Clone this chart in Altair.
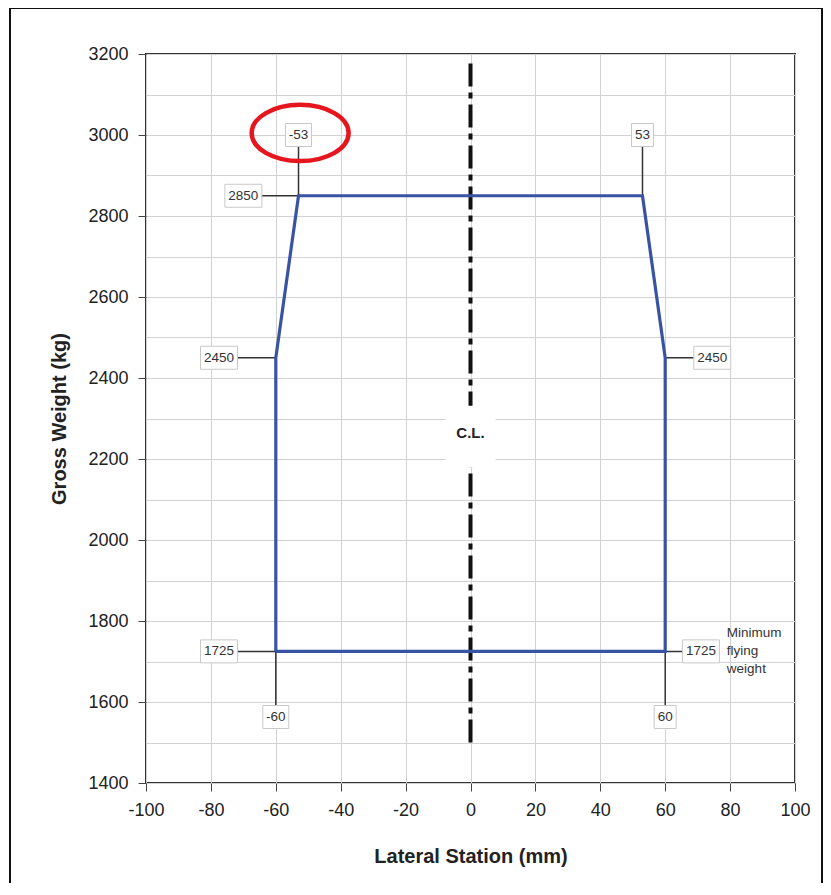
import altair as alt
import pandas as pd

# Envelope (Lateral station mm, gross weight kg)
env_x = [-60, -60, -53, 53, 60, 60, -60]
env_y = [1725, 2450, 2850, 2850, 2450, 1725, 1725]

# Annotation boxes: label, box centre (x, y), anchor point on envelope, box width class
ann_label = ["-53", "53", "2850", "2450", "2450", "1725", "1725", "-60", "60"]
ann_x = [-53, 53, -70, -77.5, 74.5, -77.5, 71, -60, 60]
ann_y = [3000, 3000, 2850, 2450, 2450, 1725, 1725, 1563, 1563]
anc_x = [-53, 53, -53, -60, 60, -60, 60, -60, 60]
anc_y = [2850, 2850, 2850, 2450, 2450, 1725, 1725, 1725, 1725]
ann_w = [26, 22, 37, 37, 37, 37, 37, 26, 22]

# Red highlight ellipse around the -53 label
hl_x = [-52.5]
hl_y = [3005]

# Centre line
cl_x = [0]
cl_y1 = [1500]
cl_y2 = [3180]
cl_label_y = [2255]

note_x = [79]
note_y = [1770]
note_text = ["Minimum\nflying\nweight"]

W, H = 649, 729
XDOM = [-100, 100]
YDOM = [1400, 3200]

env = pd.DataFrame({"x": env_x, "y": env_y, "i": list(range(len(env_x)))})
ann = pd.DataFrame({"label": ann_label, "x": ann_x, "y": ann_y,
                    "ax": anc_x, "ay": anc_y, "w": ann_w})
cl = pd.DataFrame({"x": cl_x, "y": cl_y1, "y2": cl_y2, "ly": cl_label_y})
note = pd.DataFrame({"x": note_x, "y": note_y, "t": note_text})
hl = pd.DataFrame({"x": hl_x, "y": hl_y})

xs = alt.Scale(domain=XDOM, nice=False, zero=False)
ys = alt.Scale(domain=YDOM, nice=False, zero=False)

x_axis = alt.Axis(
    values=list(range(-100, 101, 10)),
    labelExpr="datum.value % 20 === 0 ? '' + datum.value : ''",
    tickOpacity={"condition": {"test": "datum.value % 20 !== 0", "value": 0}, "value": 1},
    title="Lateral Station (mm)", grid=True, domain=False,
    tickSize=8, tickColor="#444", tickWidth=1,
    labelPadding=10, titlePadding=27, labelFlush=False,
    labelOverlap=False,
)
y_axis = alt.Axis(
    values=list(range(1400, 3201, 100)),
    labelExpr="datum.value % 200 === 0 ? '' + datum.value : ''",
    tickOpacity={"condition": {"test": "datum.value % 200 !== 0", "value": 0}, "value": 1},
    title="Gross Weight (kg)", grid=True, domain=False,
    tickSize=8, tickColor="#444", tickWidth=1,
    labelPadding=10, titlePadding=18, labelFlush=False,
    labelOverlap=False,
)

base_grid = alt.Chart(env).mark_point(opacity=0).encode(
    x=alt.X("x:Q", scale=xs, axis=x_axis),
    y=alt.Y("y:Q", scale=ys, axis=y_axis),
)

centre = alt.Chart(cl).mark_rule(color="#111", strokeWidth=4, strokeDash=[23, 6, 6, 6]).encode(
    x=alt.X("x:Q", scale=xs), y=alt.Y("y:Q", scale=ys), y2="y2:Q"
)
cl_bg = alt.Chart(cl).mark_rect(color="white", width=50, height=62).encode(
    x=alt.X("x:Q", scale=xs), y=alt.Y("ly:Q", scale=ys)
)
cl_txt = alt.Chart(cl).mark_text(text="C.L.", font="Liberation Sans", fontWeight="bold",
                                 fontSize=15, color="#222", baseline="middle", dy=-4).encode(
    x=alt.X("x:Q", scale=xs), y=alt.Y("ly:Q", scale=ys)
)

leaders = alt.Chart(ann).mark_rule(color="#333", strokeWidth=1.5).encode(
    x=alt.X("x:Q", scale=xs), y=alt.Y("y:Q", scale=ys), x2="ax:Q", y2="ay:Q"
)

envelope = alt.Chart(env).mark_line(color="#3953a4", strokeWidth=3.2, strokeJoin="miter").encode(
    x=alt.X("x:Q", scale=xs), y=alt.Y("y:Q", scale=ys), order="i:Q"
)

box_layers = []
for w in sorted(set(ann_w)):
    box_layers.append(
        alt.Chart(ann).transform_filter(f"datum.w === {w}").mark_rect(
            fill="white", stroke="#c8c8c8", strokeWidth=1, width=w, height=23
        ).encode(x=alt.X("x:Q", scale=xs), y=alt.Y("y:Q", scale=ys))
    )

box_txt = alt.Chart(ann).mark_text(font="Liberation Sans", fontSize=13.5, color="#333",
                                   baseline="middle").encode(
    x=alt.X("x:Q", scale=xs), y=alt.Y("y:Q", scale=ys), text="label:N"
)

note_txt = alt.Chart(note).mark_text(font="Liberation Sans", fontSize=13.5, color="#333",
                                     align="left", baseline="middle", lineBreak="\n",
                                     lineHeight=18).encode(
    x=alt.X("x:Q", scale=xs), y=alt.Y("y:Q", scale=ys), text="t:N"
)

ellipse_path = "M -1 0 A 1 0.58 0 1 0 1 0 A 1 0.58 0 1 0 -1 0 Z"
highlight = alt.Chart(hl).mark_point(
    shape=ellipse_path, size=9400, filled=False, stroke="#e5161d", strokeWidth=4.5, opacity=1
).encode(x=alt.X("x:Q", scale=xs), y=alt.Y("y:Q", scale=ys))

frame = alt.Chart(cl).mark_rule(color="#111", strokeWidth=2)
frame_l = frame.encode(x=alt.value(-136), y=alt.value(-46), y2=alt.value(900))
frame_t = frame.encode(x=alt.value(-136), x2=alt.value(676), y=alt.value(-46))
frame_r = frame.encode(x=alt.value(676), y=alt.value(-46), y2=alt.value(900))

chart = alt.layer(
    base_grid, centre, cl_bg, cl_txt, leaders, envelope, *box_layers, box_txt, note_txt,
    highlight, frame_l, frame_t, frame_r,
).properties(
    width=W, height=H,
    autosize=alt.AutoSizeParams(type="none"),
    padding={"left": 138, "top": 46, "right": 28, "bottom": 100},
    background="white",
).configure_view(
    stroke="#333", strokeWidth=2, clip=False
).configure_axis(
    gridColor="#d2d2d2", gridWidth=1,
    labelFont="Liberation Sans", labelFontSize=18, labelColor="#222",
    titleFont="Liberation Sans", titleFontSize=20, titleFontWeight="bold", titleColor="#222",
)

chart.save("out.html", embed_options={"renderer": "svg", "actions": False})
